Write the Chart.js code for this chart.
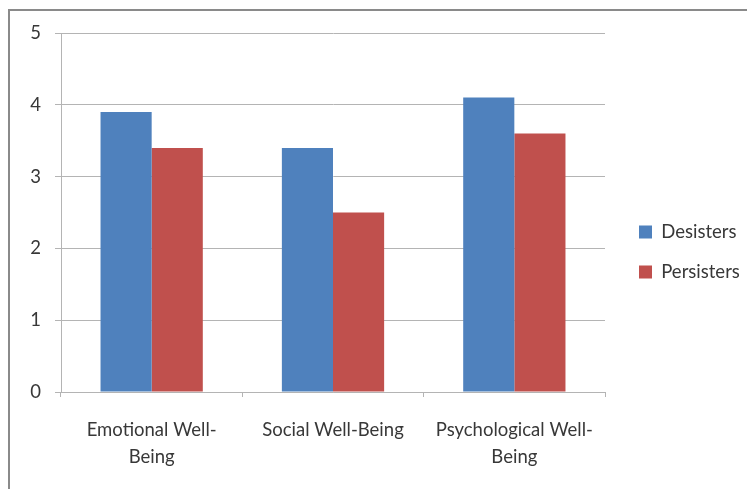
<!DOCTYPE html>
<html>
<head>
<meta charset="utf-8">
<script src="https://cdn.jsdelivr.net/npm/chart.js@4.4.1/dist/chart.umd.min.js"></script>
<style>
  html, body { margin: 0; padding: 0; background: #fff; overflow: hidden; }
  #wrap { position: relative; width: 747px; height: 489px; }
  #frame { position: absolute; left: 8px; top: 9px; width: 780px; height: 520px;
           border: 2px solid #8a8a8a; box-sizing: border-box; pointer-events: none; }
  canvas { position: absolute; left: 0; top: 0; }
</style>
</head>
<body>
<div id="wrap">
  <canvas id="c" width="747" height="489"></canvas>
  <div id="frame"></div>
</div>
<script>
// Mean well-being scores by group
const categories = [["Emotional Well-", "Being"], "Social Well-Being", ["Psychological Well-", "Being"]];
const desisters = [3.9, 3.4, 4.1];
const persisters = [3.4, 2.5, 3.6];
const yTicks = [0, 1, 2, 3, 4, 5];

const FONT = "Lato, 'Open Sans', sans-serif";
const TEXT = '#383838';
const GRID = '#b4b4b4';

new Chart(document.getElementById('c'), {
  type: 'bar',
  data: {
    labels: categories,
    datasets: [
      { label: 'Desisters', data: desisters, backgroundColor: '#4F81BD', borderWidth: 0 },
      { label: 'Persisters', data: persisters, backgroundColor: '#C0504D', borderWidth: 0 }
    ]
  },
  options: {
    responsive: false,
    animation: false,
    layout: { padding: { top: 33, left: 0, right: 6, bottom: 18 } },
    datasets: { bar: { categoryPercentage: 0.564, barPercentage: 1.0 } },
    plugins: {
      legend: {
        position: 'right',
        labels: {
          boxWidth: 13, boxHeight: 13, padding: 21.5,
          color: TEXT, font: { family: FONT, size: 18.5 }
        }
      },
      tooltip: { enabled: false }
    },
    scales: {
      x: {
        grid: { display: true, drawOnChartArea: false, drawTicks: true, tickLength: 5, color: GRID, offset: true },
        border: { display: true, color: GRID, width: 1 },
        ticks: { color: TEXT, font: { family: FONT, size: 18.5, lineHeight: 1.45 }, padding: 20, maxRotation: 0, autoSkip: false },
        afterFit(s) { s.height = 79; }
      },
      y: {
        min: 0, max: 5,
        afterBuildTicks(s) { s.ticks = yTicks.map(v => ({ value: v })); },
        grid: { color: GRID, lineWidth: 1, tickLength: 6 },
        border: { display: true, color: GRID, width: 1 },
        ticks: { color: TEXT, font: { family: FONT, size: 18.5 }, padding: 14 },
        afterFit(s) { s.width = 61; }
      },
      gap: {
        position: 'right', display: true,
        grid: { display: false }, border: { display: false }, ticks: { display: false },
        afterFit(s) { s.width = 12.5; }
      }
    }
  }
});
</script>
</body>
</html>
